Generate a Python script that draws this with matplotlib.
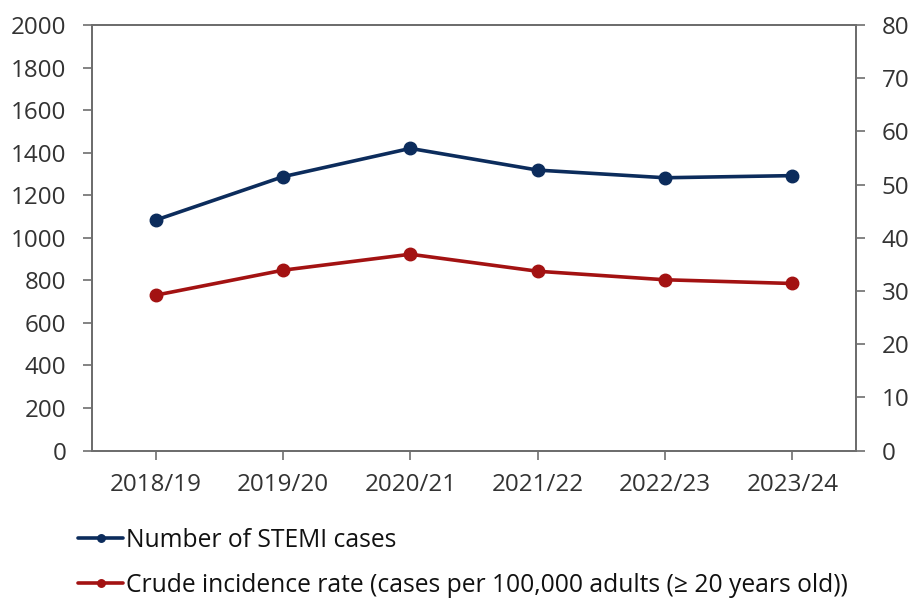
import matplotlib
matplotlib.use("Agg")
import matplotlib.pyplot as plt
from matplotlib.ticker import MultipleLocator

plt.rcParams['font.family'] = ['Open Sans', 'DejaVu Sans']

years = ["2018/19", "2019/20", "2020/21", "2021/22", "2022/23", "2023/24"]
stemi_cases = [1083, 1287, 1420, 1318, 1282, 1292]
incidence_rate = [29.2, 33.9, 36.9, 33.7, 32.1, 31.4]

navy = "#0c2c5c"
red = "#a31212"
spine_col = "#6e6e6e"
text_col = "#333333"
fs = 17.4
legend_fs = 17.7

fig = plt.figure(figsize=(9.14, 5.99), dpi=100)
ax = fig.add_axes([92 / 914, 1 - 450.5 / 599, 764 / 914, 425.5 / 599])
ax2 = ax.twinx()

x = list(range(len(years)))
l1, = ax.plot(x, stemi_cases, color=navy, lw=2.6, marker="o", ms=9,
              label="Number of STEMI cases", solid_capstyle="round")
l2, = ax2.plot(x, incidence_rate, color=red, lw=2.6, marker="o", ms=9,
               label="Crude incidence rate (cases per 100,000 adults (\u2265 20 years old))",
               solid_capstyle="round")

ax.set_xlim(-0.5, len(years) - 0.5)
ax.set_ylim(0, 2000)
ax2.set_ylim(0, 80)
ax.yaxis.set_major_locator(MultipleLocator(200))
ax2.yaxis.set_major_locator(MultipleLocator(10))
ax.set_xticks(x)
ax.set_xticklabels(years)

for a in (ax, ax2):
    for s in a.spines.values():
        s.set_color(spine_col)
        s.set_linewidth(1.4)
    a.tick_params(colors=spine_col, labelcolor=text_col, labelsize=fs,
                  length=6.5, width=1.2, direction="out")
ax.tick_params(axis="y", pad=12)
ax2.tick_params(axis="y", pad=12)
ax.tick_params(axis="x", pad=10)

leg = fig.legend(handles=[l1, l2], loc="upper left",
                 bbox_to_anchor=(68 / 914, 1 - 518 / 599), frameon=False,
                 fontsize=legend_fs, handlelength=1.85, handletextpad=0.12,
                 labelspacing=0.8, markerscale=0.6, borderaxespad=0)
for t in leg.get_texts():
    t.set_color("#111111")

fig.savefig("out.png", dpi=100)
